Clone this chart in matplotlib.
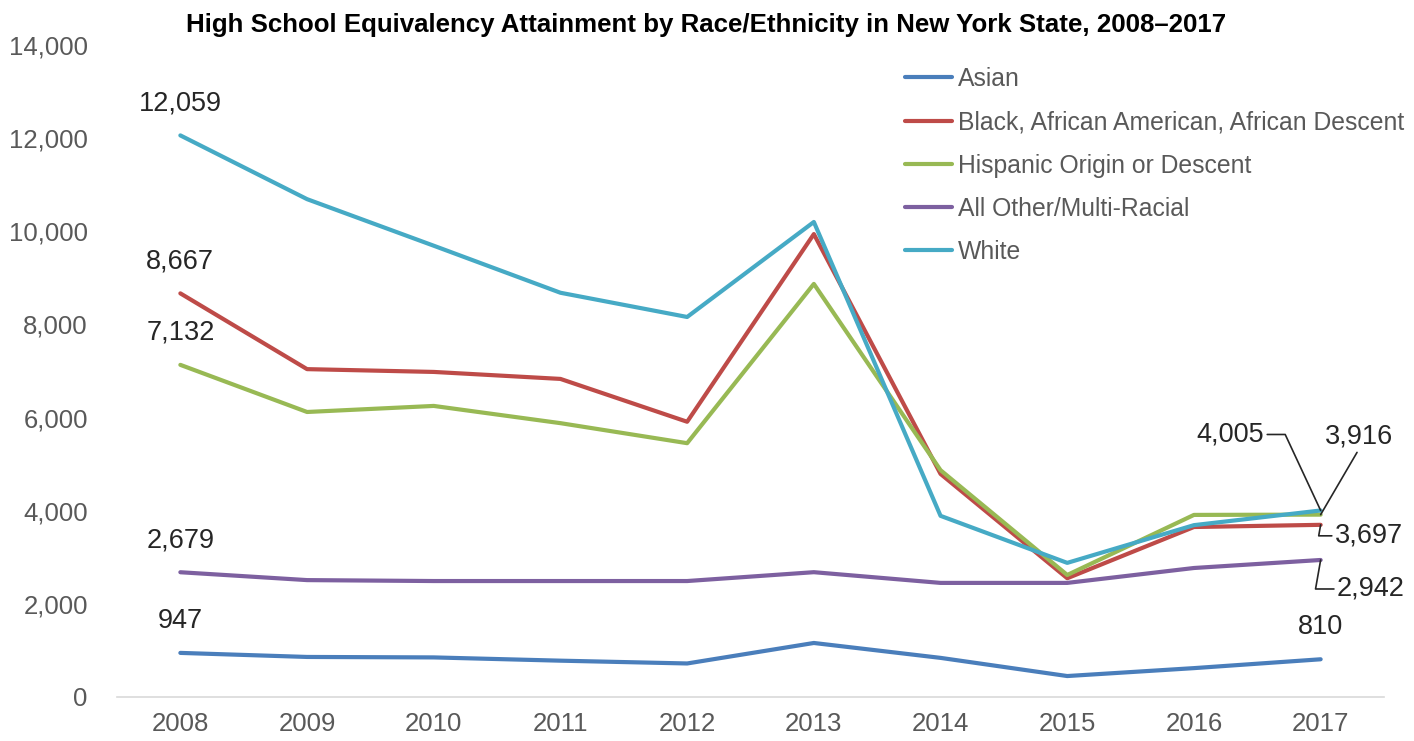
import matplotlib
matplotlib.use('Agg')
import matplotlib.pyplot as plt

# Values
years = [2008, 2009, 2010, 2011, 2012, 2013, 2014, 2015, 2016, 2017]
asian    = [947, 860, 850, 780, 720, 1160, 840, 450, 620, 810]
black    = [8667, 7040, 6980, 6830, 5910, 9940, 4790, 2550, 3650, 3697]
hispanic = [7132, 6120, 6250, 5880, 5450, 8870, 4870, 2620, 3910, 3916]
other    = [2679, 2510, 2490, 2490, 2490, 2680, 2450, 2450, 2770, 2942]
white    = [12059, 10690, 9690, 8680, 8160, 10200, 3890, 2880, 3690, 4005]

series_names = ['Asian', 'Black, African American, African Descent',
                'Hispanic Origin or Descent', 'All Other/Multi-Racial', 'White']
series_vals = [asian, black, hispanic, other, white]
colors = ['#4A7EBB', '#BE4B48', '#98B954', '#7D60A0', '#46AAC5']

title = 'High School Equivalency Attainment by Race/Ethnicity in New York State, 2008\u20132017'
yticks = [0, 2000, 4000, 6000, 8000, 10000, 12000, 14000]

base = 'Liberation Sans'

fig = plt.figure(figsize=(14.14, 7.41), dpi=100)
ax = fig.add_axes([117 / 1414, 1 - 697 / 741, (1384 - 117) / 1414, (697 - 45) / 741])

x = list(range(len(years)))
for name, vals, c in zip(series_names, series_vals, colors):
    ax.plot(x, vals, color=c, linewidth=3, label=name, solid_capstyle='round',
            solid_joinstyle='round')

ax.set_xlim(-0.5, len(years) - 0.5)
ax.set_ylim(0, 14000)
ax.set_yticks(yticks)
ax.set_yticklabels([f'{v:,}' for v in yticks])
ax.set_xticks(x)
ax.set_xticklabels([str(y) for y in years])
for lab in ax.get_xticklabels() + ax.get_yticklabels():
    lab.set_fontfamily(base)
    lab.set_fontsize(18.5)
    lab.set_color('#595959')
ax.tick_params(axis='both', length=0)
ax.tick_params(axis='y', pad=21)
ax.tick_params(axis='x', pad=11)
for s in ['top', 'right', 'left']:
    ax.spines[s].set_visible(False)
ax.spines['bottom'].set_color('#D9D9D9')
ax.spines['bottom'].set_linewidth(1.2)

# first-year labels above points
lab_kw = dict(textcoords='offset pixels', ha='center', va='center',
              fontsize=19.5, fontfamily=base, color='#262626')
for vals in series_vals:
    ax.annotate(f'{vals[0]:,}', xy=(x[0], vals[0]), xytext=(0, 32), **lab_kw)

# last-year labels, some with leader lines
last = x[-1]
ax.annotate(f'{asian[-1]:,}', xy=(last, asian[-1]), xytext=(0, 32), **lab_kw)
line_kw = dict(arrowstyle='-', color='#262626', lw=1.2, shrinkA=0, shrinkB=0)
ax.annotate(f'{white[-1]:,}', xy=(last, white[-1]), xytext=(-90, 76),
            arrowprops=dict(connectionstyle='angle,angleA=0,angleB=115,rad=0',
                            relpos=(1, 0.5), **line_kw), **lab_kw)
ax.annotate(f'{hispanic[-1]:,}', xy=(last, hispanic[-1]), xytext=(38, 78),
            arrowprops=dict(relpos=(0.5, 0.0), **line_kw), **lab_kw)
ax.annotate(f'{black[-1]:,}', xy=(last, black[-1]), xytext=(48, -11),
            arrowprops=dict(connectionstyle='angle,angleA=0,angleB=80,rad=0',
                            relpos=(0, 0.5), **line_kw), **lab_kw)
ax.annotate(f'{other[-1]:,}', xy=(last, other[-1]), xytext=(50, -29),
            arrowprops=dict(connectionstyle='angle,angleA=0,angleB=80,rad=0',
                            relpos=(0, 0.5), **line_kw), **lab_kw)

leg = ax.legend(loc='upper left', bbox_to_anchor=(905 / 1414, 1 - 67 / 741),
                bbox_transform=fig.transFigure, frameon=False,
                prop={'family': base, 'size': 17.8}, handlelength=1.9,
                handletextpad=0.25, labelspacing=0.78, borderaxespad=0,
                borderpad=0)
for t in leg.get_texts():
    t.set_color('#595959')

fig.text(706 / 1414, 1 - 25 / 741, title, ha='center', va='center',
         fontsize=18.6, fontweight='bold', fontfamily=base, color='#000000')

fig.savefig('out.png', dpi=100)
